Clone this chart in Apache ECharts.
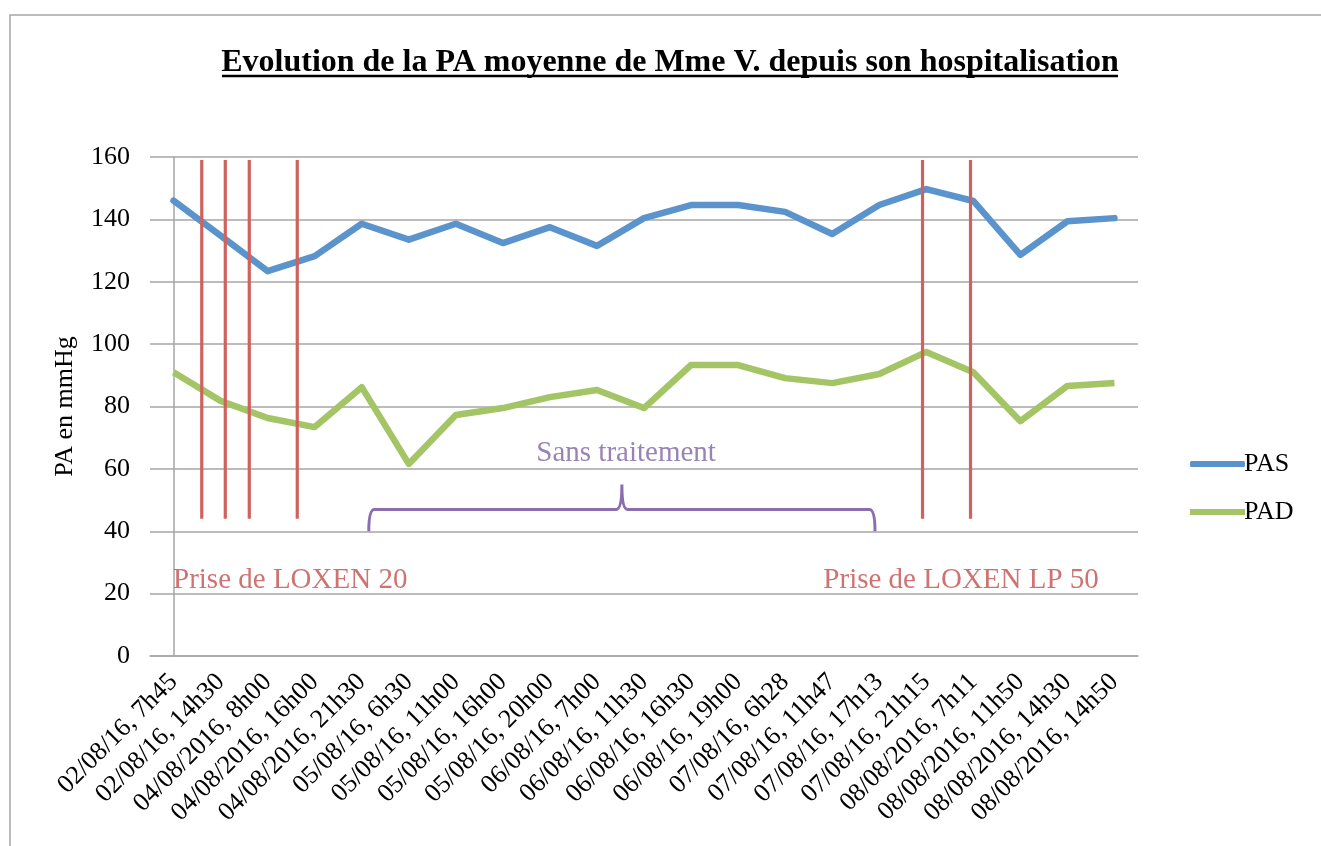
<!DOCTYPE html>
<html>
<head>
<meta charset="utf-8">
<script src="https://cdn.jsdelivr.net/npm/echarts@6/dist/echarts.min.js"></script>
<style>html,body{margin:0;padding:0;background:#fff;}#c{width:1321px;height:846px;}</style>
</head>
<body>
<div id="c"></div>
<script>
const categories = ["02/08/16, 7h45","02/08/16, 14h30","04/08/2016, 8h00","04/08/2016, 16h00","04/08/2016, 21h30","05/08/16, 6h30","05/08/16, 11h00","05/08/16, 16h00","05/08/16, 20h00","06/08/16, 7h00","06/08/16, 11h30","06/08/16, 16h30","06/08/16, 19h00","07/08/16, 6h28","07/08/16, 11h47","07/08/16, 17h13","07/08/16, 21h15","08/08/2016, 7h11","08/08/2016, 11h50","08/08/2016, 14h30","08/08/2016, 14h50"];
const pas = [146, 134.8, 123.4, 128.2, 138.6, 133.5, 138.6, 132.4, 137.5, 131.5, 140.4, 144.6, 144.6, 142.4, 135.3, 144.6, 149.7, 145.9, 128.6, 139.4, 140.4];
const pad = [91, 81.8, 76.3, 73.4, 86.2, 61.6, 77.3, 79.5, 83, 85.3, 79.5, 93.3, 93.3, 89.1, 87.5, 90.4, 97.5, 91, 75.3, 86.6, 87.5];
const yTicks = {min: 0, max: 160, interval: 20};
// annotations (category-index positions on the x scale, values on the y scale)
const medicationMarks = [0.6, 1.1, 1.61, 2.63, 15.92, 16.94];
const medicationSpan = [159, 44];
const braceSpan = {from: 4.15, mid: 9.53, to: 14.91, base: 40, bar: 47, tip: 55};
const notes = [
  {text: "Sans traitement", x: 9.62, y: 65, color: "#8064A2"},
  {text: "Prise de LOXEN 20", x: 2.48, y: 24.4, color: "#C0504D"},
  {text: "Prise de LOXEN LP 50", x: 16.74, y: 24.4, color: "#C0504D"}
];

const FONT = "Liberation Serif";
const GRID = "#A6A6A6";
const chart = echarts.init(document.getElementById('c'), null, {renderer: 'canvas'});

const option = {
  animation: false,
  backgroundColor: '#fff',
  title: {
    text: 'Evolution de la PA moyenne de Mme V. depuis son hospitalisation',
    left: 665, top: 42, textAlign: 'center',
    textStyle: {fontFamily: FONT, fontWeight: 'bold', fontSize: 32, color: '#000'}
  },
  graphic: [
    {type: 'rect', shape: {x: 10, y: 15, width: 1400, height: 900}, style: {fill: null, stroke: '#A6A6A6', lineWidth: 1.5}, silent: true, z: -1},
    {type: 'line', shape: {x1: 222, y1: 76, x2: 1118, y2: 76}, style: {stroke: '#000', lineWidth: 2.5}}
  ],
  legend: {
    data: [{name: 'PAS', icon: 'roundRect'}, {name: 'PAD', icon: 'rect'}],
    orient: 'vertical', left: 1185, top: 446,
    itemWidth: 55, itemHeight: 6, itemGap: 22,
    textStyle: {fontFamily: FONT, fontSize: 26, color: '#000', padding: [0, 0, 0, -6]}
  },
  grid: {left: 150, right: 183, top: 157, bottom: 190, containLabel: false},
  xAxis: [
    {
      type: 'category', data: categories, boundaryGap: true,
      axisLine: {show: true, lineStyle: {color: GRID, width: 1.5}},
      axisTick: {show: false},
      axisLabel: {interval: 0, rotate: 45, fontFamily: FONT, fontSize: 26, color: '#000', margin: 22}
    },
    {type: 'value', min: -0.5, max: 20.5, show: false, position: 'bottom'}
  ],
  yAxis: {
    type: 'value', min: yTicks.min, max: yTicks.max, interval: yTicks.interval,
    name: 'PA en mmHg', nameLocation: 'middle', nameGap: 72, nameRotate: 90,
    nameTextStyle: {fontFamily: FONT, fontSize: 26, color: '#000'},
    axisLine: {show: true, lineStyle: {color: GRID, width: 1.5}},
    axisTick: {show: false},
    splitLine: {show: true, lineStyle: {color: GRID, width: 1.5}},
    axisLabel: {fontFamily: FONT, fontSize: 26, color: '#000', margin: 20}
  },
  series: [
    {
      name: 'PAS', type: 'line', data: pas, symbol: 'none', xAxisIndex: 0,
      lineStyle: {color: '#5B93CD', width: 6.5, cap: 'round', join: 'round'},
      itemStyle: {color: '#5B93CD'}, z: 3
    },
    {
      name: 'PAD', type: 'line', data: pad, symbol: 'none', xAxisIndex: 0,
      lineStyle: {color: '#A4C566', width: 6.5, join: 'round'},
      itemStyle: {color: '#A4C566'}, z: 3
    },
    {
      name: 'marks', type: 'custom', xAxisIndex: 1, yAxisIndex: 0, silent: true, z: 4,
      data: medicationMarks.map(v => [v]),
      renderItem: function (params, api) {
        const x = api.value(0);
        const p1 = api.coord([x, medicationSpan[0]]);
        const p2 = api.coord([x, medicationSpan[1]]);
        return {type: 'line', shape: {x1: p1[0], y1: p1[1], x2: p2[0], y2: p2[1]},
          style: {stroke: '#D0625E', lineWidth: 3.2}};
      }
    },
    {
      name: 'brace', type: 'custom', xAxisIndex: 1, yAxisIndex: 0, silent: true, z: 4,
      data: [[braceSpan.from, braceSpan.mid, braceSpan.to]],
      renderItem: function (params, api) {
        const b = braceSpan;
        const c = (x, y) => api.coord([x, y]);
        const L0 = c(b.from, b.base), L1 = c(b.from, b.bar), L2 = c(b.from + 0.12, b.bar);
        const M0 = c(b.mid - 0.12, b.bar), M1 = c(b.mid, b.bar), M2 = c(b.mid, b.tip), M3 = c(b.mid + 0.12, b.bar);
        const R0 = c(b.to - 0.12, b.bar), R1 = c(b.to, b.bar), R2 = c(b.to, b.base);
        const d = `M${L0[0]},${L0[1]} Q${L1[0]},${L1[1]} ${L2[0]},${L2[1]} L${M0[0]},${M0[1]} Q${M1[0]},${M1[1]} ${M2[0]},${M2[1]} Q${M1[0]},${M1[1]} ${M3[0]},${M3[1]} L${R0[0]},${R0[1]} Q${R1[0]},${R1[1]} ${R2[0]},${R2[1]}`;
        return {type: 'path', shape: {pathData: d}, style: {fill: null, stroke: '#8B6EB0', lineWidth: 3}};
      }
    },
    {
      name: 'notes', type: 'scatter', xAxisIndex: 1, yAxisIndex: 0, silent: true, symbolSize: 0,
      data: notes.map(n => ({value: [n.x, n.y], label: {formatter: n.text, color: n.color}})),
      label: {show: true, position: 'inside', fontFamily: FONT, fontSize: 29}
    }
  ]
};
chart.setOption(option);
</script>
</body>
</html>
